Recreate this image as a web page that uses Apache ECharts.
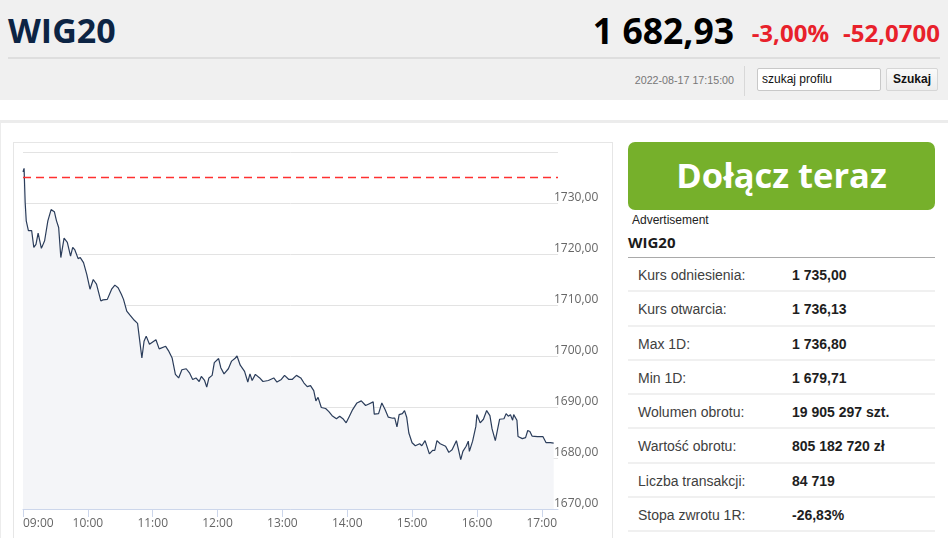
<!DOCTYPE html>
<html lang="pl">
<head>
<meta charset="utf-8">
<script src="https://cdn.jsdelivr.net/npm/echarts@6/dist/echarts.min.js"></script>
<style>
  html, body { margin: 0; padding: 0; }
  body { width: 948px; height: 538px; overflow: hidden; background: #fff; position: relative; font-family: "Liberation Sans", Arial, sans-serif; }
  .abs { position: absolute; }
  #header { left: 0; top: 0; width: 948px; height: 100px; background: #f0f0f0; }
  #title { left: 8px; top: 8px; font-family: "Open Sans", sans-serif; font-weight: 700; font-size: 34px; color: #0c2444; line-height: 44px; }
  #price { right: 214px; top: 6px; font-family: "Open Sans", sans-serif; font-weight: 700; font-size: 35.5px; color: #000; line-height: 48px; }
  #pct { right: 119px; top: 15px; font-family: "Open Sans", sans-serif; font-weight: 700; font-size: 24px; color: #e8212b; line-height: 36px; }
  #chg { right: 8px; top: 15px; font-family: "Open Sans", sans-serif; font-weight: 700; font-size: 24px; color: #e8212b; line-height: 36px; }
  #hline { left: 8px; top: 57px; width: 932px; height: 2px; background: #dedede; }
  #date { right: 214px; top: 73px; font-size: 10.7px; color: #777; line-height: 14px; }
  #vsep { left: 744px; top: 66px; width: 1px; height: 30px; background: #d8d8d8; }
  #search { left: 757px; top: 68px; width: 124px; height: 23px; box-sizing: border-box; background: #fff; border: 1px solid #c8c8c8; border-radius: 2px; font-size: 12px; color: #111; line-height: 21px; padding-left: 4px; }
  #btn { left: 886px; top: 68px; width: 52px; height: 23px; box-sizing: border-box; background: linear-gradient(#fafafa, #ececec); border: 1px solid #d6d6d6; border-radius: 2px; font-size: 12px; font-weight: 700; color: #111; line-height: 21px; text-align: center; }
  #band { left: 0; top: 120px; width: 948px; height: 3px; background: #ececec; }
  #leftb { left: 0; top: 123px; width: 1px; height: 415px; background: #ececec; }
  #frame { left: 13px; top: 142px; width: 600px; height: 410px; box-sizing: border-box; border: 1px solid #e6e6e6; }
  #chart { left: 13px; top: 142px; width: 599px; height: 400px; }
  #green { left: 628px; top: 142px; width: 307px; height: 68px; background: #76b02b; border-radius: 7px; color: #fff; font-family: "Open Sans", sans-serif; font-weight: 700; font-size: 34.5px; line-height: 66px; text-align: center; }
  #adv { left: 632px; top: 213px; font-size: 12px; color: #222; line-height: 14px; }
  #side-title { left: 628px; top: 232px; font-family: "Open Sans", sans-serif; font-weight: 700; font-size: 15px; color: #1b1b1b; line-height: 20px; }
  #side-line { left: 628px; top: 257px; width: 307px; height: 1px; background: #a9a9a9; }
  #table { left: 628px; top: 258px; width: 307px; }
  .row { position: relative; height: 34.25px; box-sizing: border-box; border-bottom: 2px solid #f0f0f0; font-size: 14px; }
  .row .k { position: absolute; left: 10px; top: 9px; color: #404040; line-height: 16px; }
  .row .v { position: absolute; left: 164px; top: 9px; color: #1e1e1e; font-weight: 700; line-height: 16px; }
</style>
</head>
<body>
<div id="header" class="abs"></div>
<div id="title" class="abs">WIG20</div>
<div id="price" class="abs">1 682,93</div>
<div id="pct" class="abs">-3,00%</div>
<div id="chg" class="abs">-52,0700</div>
<div id="hline" class="abs"></div>
<div id="date" class="abs">2022-08-17 17:15:00</div>
<div id="vsep" class="abs"></div>
<div id="search" class="abs">szukaj profilu</div>
<div id="btn" class="abs">Szukaj</div>
<div id="band" class="abs"></div>
<div id="leftb" class="abs"></div>
<div id="frame" class="abs"></div>
<div id="chart" class="abs"></div>
<div id="green" class="abs">Dołącz teraz</div>
<div id="adv" class="abs">Advertisement</div>
<div id="side-title" class="abs">WIG20</div>
<div id="side-line" class="abs"></div>
<div id="table" class="abs"></div>
<script>
// ---- data ----
const times = [
  '09:00','09:01','09:02','09:03','09:05','09:08','09:10','09:12','09:14','09:17','09:20','09:23','09:26','09:29','09:31','09:33','09:35','09:38','09:41','09:44','09:46','09:48','09:51','09:53','09:56','09:59',
  '10:02','10:05','10:08','10:12','10:14','10:18','10:22','10:25','10:28','10:31','10:33','10:36','10:39','10:43','10:46','10:50','10:52','10:54','10:57',
  '11:03','11:06','11:12','11:15','11:18','11:21','11:24','11:27','11:31','11:34','11:37','11:40','11:43','11:45','11:48','11:50','11:52','11:55','11:57',
  '12:01','12:03','12:06','12:10','12:13','12:16','12:18','12:21','12:25','12:28','12:30','12:32','12:35','12:39','12:42','12:47','12:52','12:55','12:59',
  '13:02','13:06','13:09','13:13','13:17','13:20','13:23','13:26','13:29','13:31','13:33','13:36','13:40','13:43','13:46','13:50','13:53','13:56','13:59',
  '14:02','14:05','14:09','14:13','14:17','14:20','14:24','14:25','14:29','14:32','14:35','14:38','14:42','14:44','14:46','14:48','14:51','14:53','14:55','14:57',
  '15:00','15:03','15:07','15:09','15:12','15:16','15:19','15:21','15:23','15:26','15:31','15:34','15:37','15:41','15:43','15:45','15:47','15:50','15:52','15:53','15:56','15:59',
  '16:00','16:03','16:06','16:09','16:12','16:14','16:17','16:19','16:21','16:25','16:27','16:29','16:31','16:33','16:34','16:37','16:38','16:42','16:45','16:47','16:49','16:51','16:56',
  '17:01','17:04','17:08','17:11'
];
const values = [
  1736.1,1736.8,1730.1,1726.5,1724.6,1724.6,1721.3,1721.9,1724.1,1721.1,1722.6,1726.5,1728.7,1728.3,1726.5,1725.2,1719.3,1723.1,1722.3,1719.6,1721.3,1720.8,1719.1,1719.3,1718.3,1716.0,
  1713.1,1715.0,1714.1,1710.8,1711.0,1711.1,1713.1,1713.9,1713.4,1712.1,1711.1,1708.8,1708.0,1707.0,1706.4,1699.6,1702.9,1703.9,1702.3,
  1703.2,1701.4,1701.9,1700.9,1699.6,1696.4,1695.7,1697.3,1697.5,1696.7,1695.4,1695.7,1695.0,1696.0,1695.2,1693.9,1695.7,1696.2,1698.7,
  1699.5,1697.7,1696.5,1697.5,1699.0,1699.5,1700.0,1698.2,1697.0,1694.9,1696.5,1695.2,1696.4,1695.7,1695.0,1695.2,1695.7,1694.9,1695.4,
  1696.2,1695.4,1695.4,1696.2,1695.7,1694.7,1694.0,1694.2,1693.2,1691.2,1691.9,1689.9,1689.7,1689.1,1688.3,1687.7,1688.2,1687.7,1686.9,
  1688.2,1689.5,1690.8,1691.2,1690.3,1690.6,1691.0,1688.6,1688.7,1690.8,1689.5,1688.0,1687.8,1687.8,1686.1,1688.5,1688.7,1689.3,1688.0,1684.9,
  1683.0,1682.4,1682.8,1682.4,1683.4,1680.8,1681.5,1681.5,1683.4,1682.8,1682.3,1681.1,1681.6,1683.4,1681.6,1679.7,1681.3,1682.3,1683.3,1681.3,1683.3,1686.2,
  1688.5,1686.9,1687.6,1689.3,1688.3,1685.7,1683.4,1685.5,1687.6,1687.7,1688.7,1688.2,1688.5,1687.4,1688.5,1687.4,1684.2,1683.8,1684.0,1685.4,1685.2,1684.3,1684.2,
  1684.2,1683.0,1683.0,1682.93
];
const referencePrice = 1735.00;
const xTickLabels = ['09:00','10:00','11:00','12:00','13:00','14:00','15:00','16:00','17:00'];
const xStart = '09:00';
const xEnd = '17:15';
const yMin = 1670, yMax = 1740, yStep = 10;

const statLabels = ['Kurs odniesienia:','Kurs otwarcia:','Max 1D:','Min 1D:','Wolumen obrotu:','Wartość obrotu:','Liczba transakcji:','Stopa zwrotu 1R:'];
const statValues = ['1 735,00','1 736,13','1 736,80','1 679,71','19 905 297 szt.','805 182 720 zł','84 719','-26,83%'];

// ---- side table ----
const tbl = document.getElementById('table');
statLabels.forEach((k, i) => {
  const r = document.createElement('div');
  r.className = 'row';
  r.innerHTML = '<span class="k"></span><span class="v"></span>';
  r.querySelector('.k').textContent = k;
  r.querySelector('.v').textContent = statValues[i];
  tbl.appendChild(r);
});

// ---- chart ----
function toMin(s) { const p = s.split(':'); return (+p[0]) * 60 + (+p[1]); }
function fmtMin(m) { const h = Math.floor(m / 60), mm = m % 60; return String(h).padStart(2, '0') + ':' + String(mm).padStart(2, '0'); }
const t0 = toMin(xStart);
const seriesData = times.map((t, i) => [toMin(t) - t0, values[i]]);
const tickVals = xTickLabels.map(t => toMin(t) - t0);

const chart = echarts.init(document.getElementById('chart'), null, { renderer: 'canvas' });
chart.setOption({
  animation: false,
  grid: { left: 10, right: 54, top: 10, bottom: 33, containLabel: false },
  xAxis: {
    type: 'value',
    min: 0,
    max: toMin(xEnd) - t0,
    interval: 60,
    axisLine: { show: true, onZero: false, lineStyle: { color: '#ccd6eb', width: 1 } },
    axisTick: { show: true, length: 8, customValues: tickVals, lineStyle: { color: '#ccd6eb' } },
    splitLine: { show: false },
    axisLabel: {
      customValues: tickVals,
      formatter: v => fmtMin(v + t0),
      color: '#666', fontSize: 12, fontFamily: 'Open Sans',
      margin: 9,
      alignMinLabel: 'left'
    }
  },
  yAxis: {
    type: 'value',
    position: 'right',
    min: yMin, max: yMax, interval: yStep,
    axisLine: { show: false },
    axisTick: { show: false },
    splitLine: { show: true, lineStyle: { color: '#e3e3e3', width: 1 } },
    axisLabel: {
      showMaxLabel: false,
      formatter: v => v.toFixed(2).replace('.', ','),
      color: '#666', fontSize: 12, fontFamily: 'Open Sans',
      verticalAlign: 'bottom',
      lineHeight: 11,
      margin: -4,
      padding: 0
    }
  },
  series: [{
    type: 'line',
    data: seriesData,
    showSymbol: false,
    symbol: 'none',
    lineStyle: { color: '#2b3d5b', width: 1.2 },
    areaStyle: { color: '#f4f5f8', opacity: 1, origin: 'start' },
    markLine: {
      silent: true,
      symbol: ['none', 'none'],
      label: { show: false },
      lineStyle: { color: '#ff3030', type: [8, 5], width: 1.3 },
      data: [{ yAxis: referencePrice }]
    }
  }]
});
</script>
</body>
</html>
